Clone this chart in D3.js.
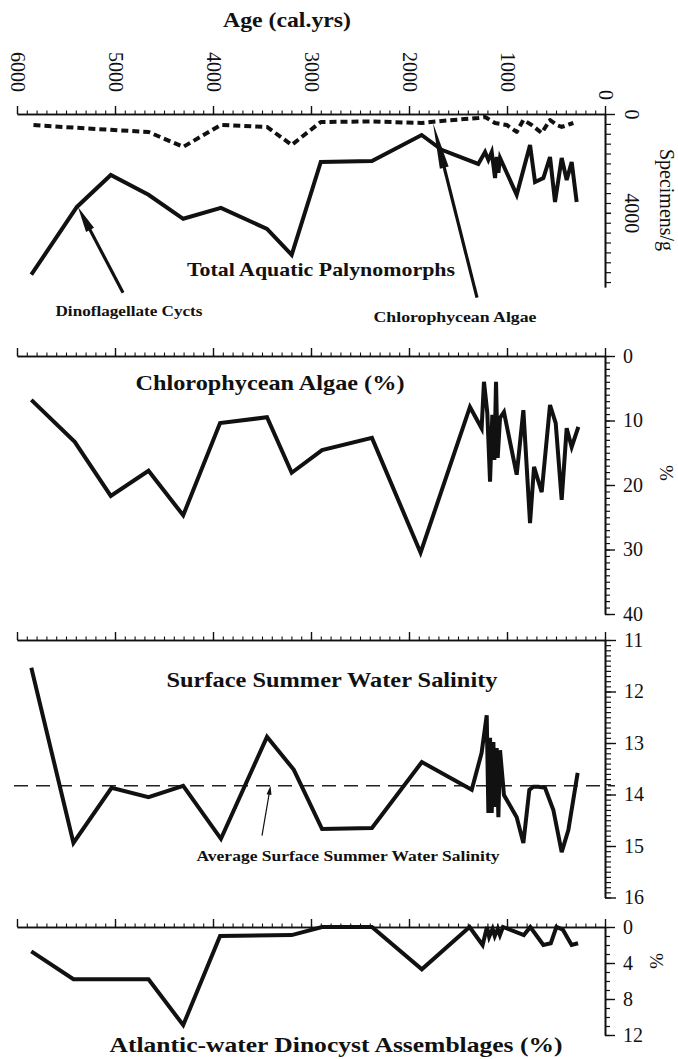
<!DOCTYPE html>
<html>
<head>
<meta charset="utf-8">
<style>
  body { margin: 0; background: #fff; }
  svg { display: block; font-family: 'Liberation Serif', 'Times New Roman', serif; }
  .title { font-weight: bold; fill: #111; text-anchor: middle; }
</style>
</head>
<body>
<svg width="678" height="1059"></svg>

<script src="https://d3js.org/d3.v7.min.js"></script>
<script>
    // ---- data (ages in cal. yrs) ----
    // panel 1, solid line (specimens/g)
    let solidAges = [5854, 5389, 5043, 4658, 4304, 3919, 3449, 3197, 2900, 2378, 1871, 1667, 1293, 1224, 1190, 1156, 1122, 1105, 1088, 1071, 901, 765, 714, 629, 561, 510, 442, 391, 340, 289]
    let solidCounts = [6500, 3760, 2470, 3270, 4240, 3800, 4650, 5700, 1940, 1900, 850, 1450, 2020, 1540, 1860, 1540, 2590, 1740, 2380, 1780, 3270, 1250, 2750, 2590, 1740, 3560, 1780, 2670, 1940, 3560]
    // panel 1, dotted line (specimens/g)
    let dottedAges = [5832, 5389, 5043, 4658, 4304, 3919, 3449, 3197, 2900, 2378, 1871, 1667, 1293, 1224, 1122, 1003, 901, 833, 748, 646, 561, 493, 442, 323]
    let dottedCounts = [445, 560, 640, 727, 1330, 444, 525, 1250, 323, 300, 364, 280, 160, 121, 364, 444, 727, 242, 444, 768, 242, 444, 525, 364]
    // panel 2, Chlorophycean algae (%)
    let chloroAges = [5854, 5411, 5043, 4658, 4304, 3928, 3449, 3197, 2887, 2378, 1882, 1378, 1259, 1235, 1201, 1173, 1150, 1129, 1112, 1095, 1071, 1031, 901, 833, 765, 724, 646, 561, 503, 442, 391, 340, 272]
    let chloroPct = [6.8, 13.3, 21.7, 17.8, 24.7, 10.4, 9.5, 18.1, 14.6, 12.7, 30.5, 7.9, 11.2, 4.0, 8.8, 19.5, 9.1, 16.1, 4.0, 15.8, 9.6, 8.7, 18.4, 8.4, 25.9, 17.2, 21.1, 7.6, 10.4, 22.3, 11.2, 14.1, 11.0]
    // panel 3, surface summer water salinity
    let salAges = [5854, 5424, 5035, 4658, 4304, 3919, 3449, 3175, 2887, 2378, 1869, 1360, 1259, 1207, 1190, 1173, 1156, 1139, 1122, 1105, 1088, 1071, 1031, 901, 833, 772, 731, 680, 612, 527, 442, 374, 279]
    let salinity = [11.54, 14.94, 13.87, 14.05, 13.83, 14.86, 12.88, 13.52, 14.67, 14.65, 13.37, 13.91, 13.19, 12.46, 14.36, 12.90, 14.36, 12.98, 14.24, 13.10, 14.44, 13.14, 14.01, 14.44, 14.94, 13.91, 13.85, 13.85, 13.87, 14.30, 15.12, 14.69, 13.58]
    let avgSalinity = 13.83
    // panel 4, Atlantic-water dinocyst assemblages (%)
    let atlAges = [5854, 5424, 5043, 4658, 4304, 3928, 3197, 2887, 2378, 1869, 1382, 1249, 1204, 1182, 1147, 1125, 1094, 1072, 1041, 828, 762, 629, 553, 496, 430, 341, 275]
    let atlPct = [2.7, 5.8, 5.8, 5.8, 10.9, 1.0, 0.9, 0, 0, 4.7, 0, 2.0, 0, 1.1, 0.2, 1.0, 0.2, 0.9, 0, 0.9, 0, 2.0, 1.8, 0, 0.3, 2.0, 1.8]

    let svg = d3.select("svg")
    let font = "'Liberation Serif', 'Times New Roman', serif"

    let x = d3.scaleLinear().domain([6000, 0]).range([17, 605])

    // one y scale per panel
    let y1 = d3.scaleLinear().domain([0, 7000]).range([114, 287])
    let y2 = d3.scaleLinear().domain([0, 40]).range([356, 614])
    let y3 = d3.scaleLinear().domain([11, 16]).range([640, 897.5])
    let y4 = d3.scaleLinear().domain([0, 12]).range([927, 1035])

    function styleAxis(g, w) {
        g.attr("font-family", font).attr("font-size", 20)
        g.select(".domain").attr("stroke", "#111").attr("stroke-width", 1.6)
        g.selectAll(".tick line").attr("stroke", "#111").attr("stroke-width", w)
        g.selectAll(".tick text").attr("fill", "#111")
    }

    // age axis along the top of each panel, ticks pointing up
    function topAxis(y0, labels) {
        let g = svg.append("g").attr("transform", `translate(0,${y0})`)
        g.append("g")
            .call(d3.axisTop(x).tickValues(d3.range(0, 6001, 100)).tickSize(3.5).tickSizeOuter(0).tickFormat(""))
            .call(styleAxis, 1.1)
        let major = g.append("g")
            .call(d3.axisTop(x).tickValues(d3.range(0, 6001, 1000)).tickSize(8).tickSizeOuter(0)
                .tickFormat(labels ? d3.format("d") : ""))
            .call(styleAxis, 1.4)
        if (labels) {
            major.selectAll(".tick text")
                .attr("x", 0).attr("y", 0).attr("dy", "0.35em")
                .attr("text-anchor", "end")
                .attr("transform", d => `translate(0,${d === 0 ? -14 : -22}) rotate(90)`)
        }
    }

    function rightAxis(y, minor, minorSize, major, majorSize) {
        let g = svg.append("g").attr("transform", `translate(605,0)`)
        g.append("g")
            .call(d3.axisRight(y).tickValues(minor).tickSize(minorSize).tickSizeOuter(0).tickFormat(""))
            .call(styleAxis, 1.2)
        let m = g.append("g")
            .call(d3.axisRight(y).tickValues(major).tickSize(majorSize).tickSizeOuter(0).tickPadding(8).tickFormat(d3.format("d")))
            .call(styleAxis, 1.4)
        return m
    }

    function drawLine(ages, vals, y, extra) {
        let pts = ages.map((a, i) => [a, vals[i]])
        let p = svg.append("path")
            .datum(pts)
            .attr("d", d3.line().x(d => x(d[0])).y(d => y(d[1])))
            .attr("fill", "none")
            .attr("stroke", "#111")
            .attr("stroke-width", 4)
            .attr("stroke-linejoin", "miter")
        if (extra) extra(p)
        return p
    }

    function arrow(x1, y1_, x2, y2_, w, headLen, headW) {
        let dx = x2 - x1, dy = y2_ - y1_
        let len = Math.sqrt(dx * dx + dy * dy)
        let ux = dx / len, uy = dy / len
        let bx = x2 - ux * headLen, by = y2_ - uy * headLen
        svg.append("line")
            .attr("x1", x1).attr("y1", y1_).attr("x2", bx + ux * 2).attr("y2", by + uy * 2)
            .attr("stroke", "#111").attr("stroke-width", w)
        svg.append("path")
            .attr("d", `M${x2},${y2_}L${bx - uy * headW / 2},${by + ux * headW / 2}L${bx + uy * headW / 2},${by - ux * headW / 2}Z`)
            .attr("fill", "#111")
    }

    function title(txt, cx, by, size, len) {
        svg.append("text")
            .attr("class", "title")
            .attr("x", cx).attr("y", by)
            .attr("font-size", size)
            .attr("textLength", len)
            .attr("lengthAdjust", "spacingAndGlyphs")
            .text(txt)
    }

    // ---------------- panel 1 ----------------
    title("Age (cal.yrs)", 287, 27, 21, 128)
    topAxis(y1(0), true)
    let r1 = rightAxis(y1, d3.range(400, 6801, 400), 6, [0, 4000], 6)
    r1.selectAll(".tick line").attr("x2", d => d === 0 ? 10 : 6)
    r1.selectAll(".tick text")
        .attr("x", 0).attr("dy", "0.35em").attr("text-anchor", "middle")
        .attr("transform", "translate(27,0) rotate(90)")
    svg.append("text")
        .attr("transform", "translate(667,200) rotate(90)")
        .attr("text-anchor", "middle").attr("dy", "0.35em")
        .attr("font-size", 20).attr("fill", "#111")
        .text("Specimens/g")

    drawLine(dottedAges, dottedCounts, y1, p => p.attr("stroke-dasharray", "7 4").attr("stroke-linejoin", "round"))
    drawLine(solidAges, solidCounts, y1)

    title("Total Aquatic Palynomorphs", 321, 276, 19, 268)
    title("Dinoflagellate Cycts", 129, 316, 14, 147)
    title("Chlorophycean Algae", 455, 322, 14, 163)
    arrow(x(4918), y1(7232), x(5378), y1(3758), 3.2, 26, 9)
    arrow(x(1306), y1(7434), x(1755), y1(364), 3.2, 46, 9)

    // ---------------- panel 2 ----------------
    topAxis(y2(0), false)
    rightAxis(y2, d3.range(0, 41, 1), 5, [0, 10, 20, 30, 40], 10)
    svg.append("text")
        .attr("transform", "translate(667,473) rotate(90)")
        .attr("text-anchor", "middle").attr("dy", "0.35em")
        .attr("font-size", 19).attr("fill", "#111")
        .text("%")
    title("Chlorophycean Algae (%)", 270, 390, 21, 269)
    drawLine(chloroAges, chloroPct, y2)

    // ---------------- panel 3 ----------------
    topAxis(y3(11), false)
    rightAxis(y3, d3.range(110, 161, 1).map(d => d / 10), 6, [11, 12, 13, 14, 15, 16], 11)
    title("Surface Summer Water Salinity", 332, 687, 21, 331)
    svg.append("line")
        .attr("x1", 14).attr("x2", 615)
        .attr("y1", y3(avgSalinity)).attr("y2", y3(avgSalinity))
        .attr("stroke", "#222").attr("stroke-width", 1.3)
        .attr("stroke-dasharray", "14 8")
    drawLine(salAges, salinity, y3)
    title("Average Surface Summer Water Salinity", 348, 861, 14, 303)
    arrow(x(3500), y3(14.80), x(3413), y3(avgSalinity), 1.2, 9, 5)

    // ---------------- panel 4 ----------------
    topAxis(y4(0), false)
    rightAxis(y4, d3.range(0, 13, 1), 5, [0, 4, 8, 12], 10)
    svg.append("text")
        .attr("transform", "translate(657,961) rotate(90)")
        .attr("text-anchor", "middle").attr("dy", "0.35em")
        .attr("font-size", 19).attr("fill", "#111")
        .text("%")
    drawLine(atlAges, atlPct, y4)
    title("Atlantic-water Dinocyst Assemblages (%)", 336, 1052, 22, 453)
</script>
</body>
</html>
